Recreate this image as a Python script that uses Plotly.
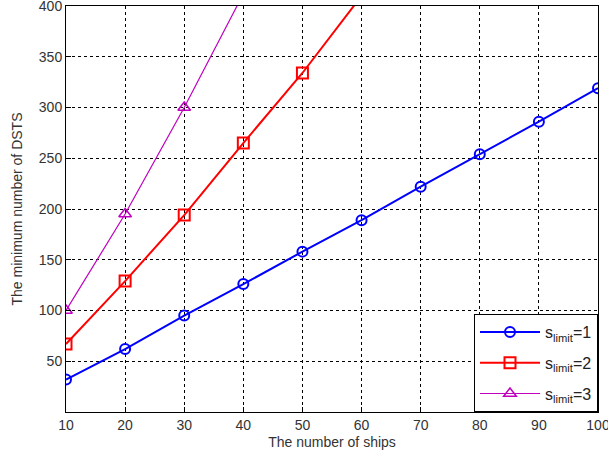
import plotly.graph_objects as go

ships = [10, 20, 30, 40, 50, 60, 70, 80, 90, 100]
s1 = [32, 62, 95, 126, 158, 189, 222, 254, 286, 319]
ships2 = [10, 20, 30, 40, 50, 60]
s2 = [67, 129, 194, 265, 334, 410]
ships3 = [10, 20, 30, 40]
s3 = [100, 195, 300, 412]
names = ["s<sub>limit</sub>=1", "s<sub>limit</sub>=2", "s<sub>limit</sub>=3"]
x_ticks = [10, 20, 30, 40, 50, 60, 70, 80, 90, 100]
y_ticks = [50, 100, 150, 200, 250, 300, 350, 400]

fig = go.Figure()
fig.add_trace(go.Scatter(x=ships, y=s1, name=names[0], mode="lines+markers", legendgroup="g1",
                         line=dict(color="#0000ff", width=2),
                         marker=dict(symbol="circle-open", size=10, color="#0000ff", line=dict(width=2))))
fig.add_trace(go.Scatter(x=ships2, y=s2, name=names[1], mode="lines+markers", legendgroup="g2",
                         line=dict(color="#ff0000", width=2),
                         marker=dict(symbol="square-open", size=11, color="#ff0000", line=dict(width=2))))
fig.add_trace(go.Scatter(x=ships3, y=s3, name=names[2], mode="lines+markers", legendgroup="g3",
                         line=dict(color="#bf00bf", width=1.2),
                         marker=dict(symbol="triangle-up-open", size=11, color="#bf00bf", line=dict(width=1.5))))

font = dict(family="Liberation Sans, Arial, sans-serif", size=14, color="#333333")
fig.update_layout(
    width=608, height=450,
    margin=dict(l=66, r=10, t=6, b=38, autoexpand=False),
    paper_bgcolor="white", plot_bgcolor="white",
    font=font,
    showlegend=True,
    legend=dict(x=1, y=0, xanchor="right", yanchor="bottom",
                bgcolor="white", bordercolor="black", borderwidth=1,
                font=dict(family="Liberation Sans, Arial, sans-serif", size=16, color="#222222"),
                itemwidth=60, tracegroupgap=7),
)
fig.update_xaxes(range=[10, 100], tickvals=x_ticks, showgrid=True,
                 gridcolor="black", griddash="3px,3px", gridwidth=1,
                 showline=True, linecolor="black", linewidth=1, mirror=True,
                 ticks="inside", ticklen=5, tickcolor="black", zeroline=False,
                 ticklabeloverflow="allow", automargin=False,
                 title=dict(text="The number of ships", standoff=18, font=dict(size=14)))
fig.update_yaxes(range=[0, 400], tickvals=y_ticks, showgrid=True,
                 gridcolor="black", griddash="3px,3px", gridwidth=1,
                 showline=True, linecolor="black", linewidth=1, mirror=True,
                 ticks="inside", ticklen=5, tickcolor="black", zeroline=False,
                 ticklabeloverflow="allow", automargin=False,
                 title=dict(text="The minimum number of DSTS", standoff=12, font=dict(size=14)))

fig.write_html("out.html")
